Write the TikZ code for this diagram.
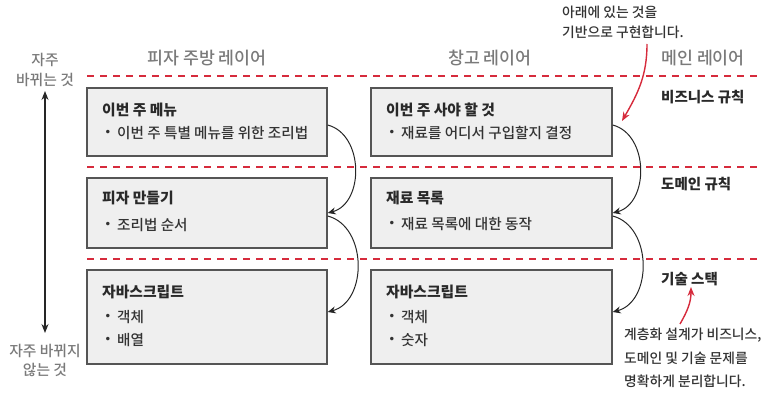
\documentclass[tikz,border=0pt]{standalone}
\usepackage{fontspec}
\setmainfont{Noto Sans CJK KR}
\newfontfamily\medfont{Noto Sans CJK KR Medium}
\newfontfamily\bulfont{DejaVu Sans}
\usetikzlibrary{arrows.meta}
\definecolor{lred}{HTML}{D62B3C}
\definecolor{boxfill}{HTML}{EFEFEF}
\definecolor{boxline}{HTML}{555555}
\definecolor{hdgray}{HTML}{7A7A7A}
\definecolor{txt}{HTML}{333333}
\tikzset{
  layerbox/.style={draw=boxline, line width=1.5pt, fill=boxfill, inner sep=0pt},
  hdr/.style={text=hdgray, font=\medfont\fontsize{17.3}{20}\selectfont, inner sep=0pt},
  side/.style={text=hdgray, font=\medfont\fontsize{14.8}{17}\selectfont, inner sep=0pt, align=center},
  ttl/.style={text=txt!80!black, font=\bfseries\fontsize{14.8}{17}\selectfont, inner sep=0pt, anchor=west},
  body/.style={text=txt, font=\medfont\fontsize{14.6}{17}\selectfont, inner sep=0pt, anchor=west},
  bul/.style={text=txt, font=\bulfont\fontsize{12}{14}\selectfont, inner sep=0pt},
  rule/.style={text=txt!80!black, font=\bfseries\fontsize{14.5}{17}\selectfont, inner sep=0pt, anchor=west},
  note/.style={text=txt, font=\medfont\fontsize{13.8}{16}\selectfont, inner sep=0pt, anchor=west},
  sep/.style={draw=lred, line width=1.4pt, dash pattern=on 7pt off 6pt},
  flow/.style={draw=black!85, line width=1pt, -{Stealth[length=8pt,width=7pt]}},
  redarr/.style={draw=lred, line width=1.4pt, -{Stealth[length=9pt,width=7pt]}},
}
\begin{document}
\begin{tikzpicture}[x=1pt,y=-1pt]
\useasboundingbox (0,0) rectangle (770,401);
% headers
\node[hdr] (h1) at (207,58) {피자 주방 레이어};
\node[hdr] (h2) at (490,58) {창고 레이어};
\node[hdr] (h3) at (703,58) {메인 레이어};
% side labels
\node[side] (s1) at (45,60) {자주};
\node[side] (s2) at (45,80) {바뀌는 것};
\node[side] (s3) at (45,351) {자주 바뀌지};
\node[side] (s4) at (45,370) {않는 것};
\coordinate (vt) at (45,91);
\coordinate (vb) at (45,333);
\draw[draw=black!85, line width=1.2pt, {Stealth[length=9pt,width=7pt]}-{Stealth[length=9pt,width=7pt]}] (vt) -- (vb);
% separators
\foreach \yy/\nm in {76/l1,167/l2,259/l3}{
  \coordinate (\nm a) at (87,\yy);
  \coordinate (\nm b) at (757,\yy);
  \draw[sep] (\nm a) -- (\nm b);
}
% boxes
\node[layerbox, minimum width=240pt, minimum height=68pt] (b11) at (207,122) {};
\node[layerbox, minimum width=240pt, minimum height=70pt] (b12) at (207,213) {};
\node[layerbox, minimum width=240pt, minimum height=94pt] (b13) at (207,317) {};
\node[layerbox, minimum width=241pt, minimum height=68pt] (b21) at (491.5,122) {};
\node[layerbox, minimum width=241pt, minimum height=70pt] (b22) at (491.5,213) {};
\node[layerbox, minimum width=241pt, minimum height=94pt] (b23) at (491.5,317) {};
% box texts left
\node[ttl] (t11) at (102,110) {이번 주 메뉴};
\node[bul] (u11) at (108,133) {•};
\node[body] (x11) at (117,133) {이번 주 특별 메뉴를 위한 조리법};
\node[ttl] (t12) at (102,198) {피자 만들기};
\node[bul] (u12) at (108,225) {•};
\node[body] (x12) at (117,225) {조리법 순서};
\node[ttl] (t13) at (102,292) {자바스크립트};
\node[bul] (u13) at (108,317) {•};
\node[body] (x13) at (117,317) {객체};
\node[bul] (u14) at (108,340) {•};
\node[body] (x14) at (117,340) {배열};
% box texts middle
\node[ttl] (t21) at (386,110) {이번 주 사야 할 것};
\node[bul] (u21) at (392,133) {•};
\node[body] (x21) at (401,133) {재료를 어디서 구입할지 결정};
\node[ttl] (t22) at (386,198) {재료 목록};
\node[bul] (u22) at (392,224) {•};
\node[body] (x22) at (401,224) {재료 목록에 대한 동작};
\node[ttl] (t23) at (386,292) {자바스크립트};
\node[bul] (u23) at (392,317) {•};
\node[body] (x23) at (401,317) {객체};
\node[bul] (u24) at (392,340) {•};
\node[body] (x24) at (401,340) {숫자};
% right rules
\node[rule] (r1) at (661,97) {비즈니스 규칙};
\node[rule] (r2) at (661,184) {도메인 규칙};
\node[rule] (r3) at (661,279) {기술 스택};
% annotations
\node[note] (n1) at (562,12) {아래에 있는 것을};
\node[note] (n2) at (562,32) {기반으로 구현합니다.};
\node[note] (n3) at (624,335) {계층화 설계가 비즈니스,};
\node[note] (n4) at (624,358) {도메인 및 기술 문제를};
\node[note] (n5) at (624,381) {명확하게 분리합니다.};
% flow arrows
\draw[flow] ([yshift=-3pt]b11.east) to[out=-15, in=15, looseness=1.1] (b12.east);
\draw[flow] ([yshift=-3pt]b12.east) to[out=-15, in=15, looseness=1.1] ([yshift=5pt]b13.east);
\draw[flow] ([yshift=-3pt]b21.east) to[out=-15, in=15, looseness=1.1] (b22.east);
\draw[flow] ([yshift=-3pt]b22.east) to[out=-15, in=15, looseness=1.1] ([yshift=5pt]b23.east);
% red arrows
\coordinate (ra) at (647,44);
\coordinate (rb) at (622,121);
\draw[redarr] (ra) to[out=-90, in=60] (rb);
\coordinate (rc) at (680,324);
\coordinate (rd) at (691,287);
\draw[redarr] (rc) to[out=60, in=-90] (rd);
\end{tikzpicture}
\end{document}
